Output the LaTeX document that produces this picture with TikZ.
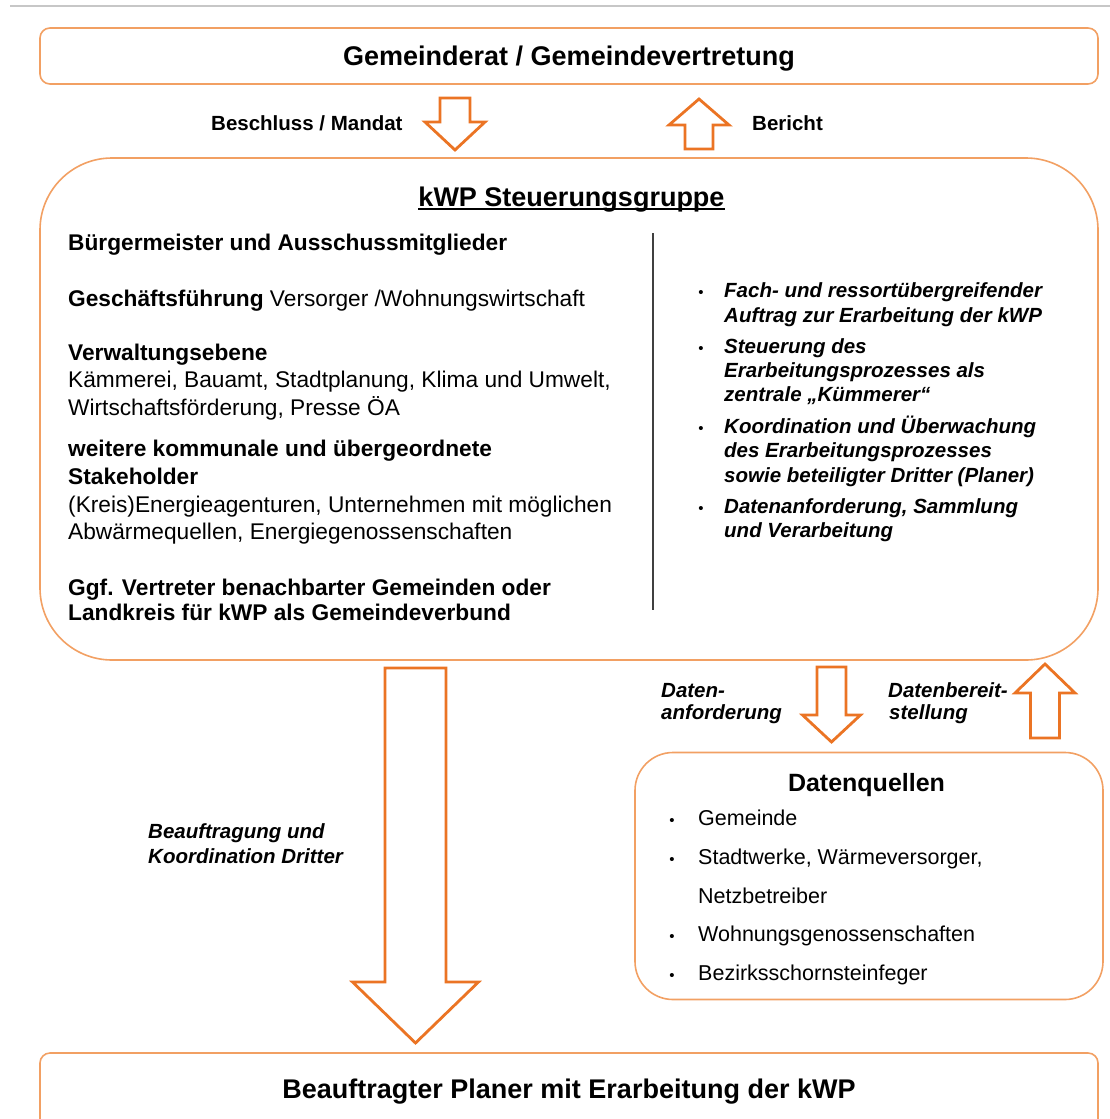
\documentclass[tikz,border=0pt]{standalone}
\usepackage{fontspec}
\setmainfont{Liberation Sans}
\usetikzlibrary{positioning}
\definecolor{arrowor}{HTML}{EB7424}
\definecolor{boxor}{HTML}{F2A063}

\begin{document}
\begin{tikzpicture}[x=1pt, y=-1pt, line join=miter,
		box/.style={draw=boxor, line width=1.6pt},
		blockarrow/.style={draw=arrowor, line width=2.8pt, fill=white},
		headline/.style={font=\fontsize{27}{32}\selectfont\bfseries, inner sep=0pt},
		member/.style={font=\fontsize{22.7}{27}\selectfont, anchor=base west, inner sep=0pt},
		task/.style={font=\fontsize{20.5}{24}\selectfont\bfseries\itshape, anchor=base west, inner sep=0pt},
		flowlabel/.style={font=\fontsize{20.5}{24}\selectfont\bfseries, anchor=base west, inner sep=0pt},
		source/.style={font=\fontsize{21.5}{26}\selectfont, anchor=base west, inner sep=0pt},
		dot/.style={font=\fontsize{15}{15}\selectfont, inner sep=0pt}]
	
	\useasboundingbox (0,0) rectangle (1110,1119);
	\clip (0,0) rectangle (1110,1119);
	
	% thin rule at the top edge
	\draw[black!22, line width=1.5pt] (10,6) -- (1110,6);
	
	% council
	\node[box, rounded corners=10, minimum width=1058, minimum height=56] (rat) at (569,56) {};
	\node[headline, anchor=base] (rattitle) at (569,65.5) {Gemeinderat / Gemeindevertretung};
	
	% mandate and report arrows
	\draw[blockarrow] (440,98) -- (470,98) -- (470,122) -- (485,122) -- (455,150) -- (425,122) -- (440,122) -- cycle;
	\draw[blockarrow] (685,149) -- (713,149) -- (713,125) -- (729,125) -- (699,99) -- (669,125) -- (685,125) -- cycle;
	\node[flowlabel] (mandat) at (211,130.5) {Beschluss / Mandat};
	\node[flowlabel] (bericht) at (752,130.5) {Bericht};
	
	% steering group
	\node[box, rounded corners=72, minimum width=1058, minimum height=502] (grp) at (569,409) {};
	\node[headline, anchor=base] (grptitle) at (571.5,206) {kWP Steuerungsgruppe};
	\draw[line width=1.6pt] ([yshift=-3pt]grptitle.base west) -- ([yshift=-3pt]grptitle.base east);
	\draw[black!75, line width=1.4pt] (653,233) -- (653,610);
	
	% members (left column)
	\node[member, font=\fontsize{22.7}{27}\selectfont\bfseries] (m1) at (68,250) {Bürgermeister und Ausschussmitglieder};
	\node[member] (m2) at (68,306) {\textbf{Geschäftsführung} Versorger /Wohnungswirtschaft};
	\node[member, font=\fontsize{22.7}{27}\selectfont\bfseries] (m3) at (68,360) {Verwaltungsebene};
	\node[member] (m4) at (68,387.5) {Kämmerei, Bauamt, Stadtplanung, Klima und Umwelt,};
	\node[member] (m5) at (68,415.5) {Wirtschaftsförderung, Presse ÖA};
	\node[member, font=\fontsize{22.7}{27}\selectfont\bfseries] (m6) at (68,456.5) {weitere kommunale und übergeordnete};
	\node[member, font=\fontsize{22.7}{27}\selectfont\bfseries] (m7) at (68,484) {Stakeholder};
	\node[member] (m8) at (68,512.5) {(Kreis)Energieagenturen, Unternehmen mit möglichen};
	\node[member] (m9) at (68,539) {Abwärmequellen, Energiegenossenschaften};
	\node[member, font=\fontsize{22.7}{27}\selectfont\bfseries] (m10) at (68,595) {Ggf. Vertreter benachbarter Gemeinden oder};
	\node[member, font=\fontsize{22.7}{27}\selectfont\bfseries] (m11) at (68,620) {Landkreis für kWP als Gemeindeverbund};
	
	% tasks (right column)
	\foreach \y/\txt [count=\i] in {297.5/Fach- und ressortübergreifender, 322/Auftrag zur Erarbeitung der kWP,
		353.5/Steuerung des, 377.5/Erarbeitungsprozesses als, 401.5/zentrale „Kümmerer“,
		433/Koordination und Überwachung, 457.5/des Erarbeitungsprozesses, 482.5/sowie beteiligter Dritter (Planer),
		513/{Datenanforderung, Sammlung}, 537.5/und Verarbeitung}
	\node[task] (t\i) at (724,\y) {\txt};
	\foreach \i in {1,3,6,9}
	\node[dot, anchor=base] (tb\i) at ([xshift=-23pt]t\i.base west) {•};
	
	% planner commission arrow
	\draw[blockarrow] (385,668) -- (446,668) -- (446,982) -- (478.5,982) -- (415.5,1043) -- (352.5,982) -- (385,982) -- cycle;
	\node[task] (auftrag1) at (148,838.5) {Beauftragung und};
	\node[task] (auftrag2) at (148,863.5) {Koordination Dritter};
	
	% data request and supply arrows
	\draw[blockarrow] (817,667) -- (846,667) -- (846,715) -- (860.5,715) -- (831.5,742) -- (802.5,715) -- (817,715) -- cycle;
	\draw[blockarrow] (1030.5,738) -- (1059.5,738) -- (1059.5,693) -- (1075,693) -- (1045,664) -- (1015,693) -- (1030.5,693) -- cycle;
	\node[task] (req1) at (661,697.5) {Daten-};
	\node[task] (req2) at (661,719.5) {anforderung};
	\node[task] (sup1) at (888,697.5) {Datenbereit-};
	\node[task] (sup2) at (889,719.5) {stellung};
	
	% data sources
	\node[box, rounded corners=38, minimum width=468, minimum height=247] (dq) at (869,876) {};
	\node[headline, anchor=base, font=\fontsize{25}{30}\selectfont\bfseries] (dqtitle) at (866.5,791) {Datenquellen};
	\foreach \y/\txt [count=\i] in {825.7/Gemeinde, 864.7/{Stadtwerke, Wärmeversorger,}, 903.7/Netzbetreiber,
		941.7/Wohnungsgenossenschaften, 980.7/Bezirksschornsteinfeger}
	\node[source] (s\i) at (698,\y) {\txt};
	\foreach \i in {1,2,4,5}
	\node[dot, anchor=base] (sb\i) at ([xshift=-26pt]s\i.base west) {•};
	
	% planner
	\draw[box, rounded corners=10] (40,1053) rectangle (1098,1130);
	\node[headline, anchor=base] (planer) at (569,1098) {Beauftragter Planer mit Erarbeitung der kWP};
	
\end{tikzpicture}
\end{document}
